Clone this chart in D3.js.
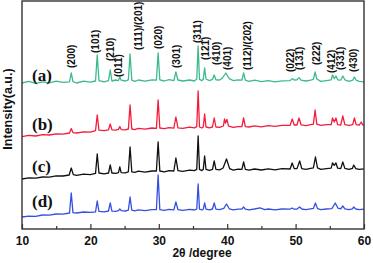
<!DOCTYPE html>
<html>
<head>
<meta charset="utf-8">
<script src="https://cdn.jsdelivr.net/npm/d3@7"></script>
<style>
  body { margin: 0; background: #fff; }
  svg { display: block; }
</style>
</head>
<body>
<div id="chart"></div>
<script>
// XRD patterns, [2θ, intensity (a.u., offset)]
const sampleA = [
  [10,730],[11,738],[12,728],[13,736],[14,731],[15,739],[16,733],
  [16.95,736],[17.2,780],[17.45,737],[18,730],[19,739],[20,734],
  [20.75,740],[21.0,870],[21.25,742],[22,736],
  [22.65,742],[22.9,795],[23.15,740],[23.7,745],
  [24.1,742],[24.3,760],[24.5,744],[25.1,740],
  [25.55,746],[25.8,875],[26.05,744],[26.5,738],[27,745],[28,739],[29,746],
  [29.65,744],[29.9,880],[30.15,746],[30.8,740],[31.5,747],
  [32.2,742],[32.5,785],[32.8,745],[33.5,740],[34.5,745],[35.2,740],
  [35.55,750],[35.75,915],[35.95,748],[36.3,742],
  [36.5,748],[36.7,805],[36.9,750],[37.4,742],
  [37.85,748],[38.1,770],[38.35,746],[38.9,745],
  [39.3,755],[39.8,780],[40.3,752],[40.9,742],[41.6,746],
  [42.15,744],[42.4,780],[42.65,744],
  [43.2,738],[44,744],[45,737],[46,742],[47,736],[48,741],
  [49.2,742],[49.5,752],[49.8,745],[50.2,746],[50.5,757],[50.8,744],
  [51.5,740],[52.2,744],[52.6,748],[52.85,785],[53.1,750],[53.7,738],[54.5,742],
  [55.2,746],[55.4,770],[55.65,752],[55.9,765],[56.15,746],
  [56.6,744],[56.9,765],[57.2,746],[57.8,738],
  [58.35,744],[58.6,760],[58.85,744],[59.3,738],[60,736]
];
const sampleB = [
  [10,462],[11,468],[12,465],[13,472],[14,470],[15,476],[16,474],
  [16.95,480],[17.2,502],[17.45,482],[18,480],[19,486],[20,484],
  [20.75,492],[21.0,570],[21.25,494],[22,492],
  [22.65,496],[22.9,525],[23.15,496],[23.7,494],
  [24.1,498],[24.3,512],[24.5,497],[25.1,496],
  [25.55,500],[25.8,620],[26.05,500],[26.5,497],[27,503],[28,499],[29,505],
  [29.65,503],[29.9,645],[30.15,505],[30.8,502],[31.5,507],
  [32.2,504],[32.5,560],[32.8,506],[33.5,503],[34.5,509],[35.2,506],
  [35.55,512],[35.75,690],[35.95,510],[36.3,505],
  [36.5,510],[36.7,575],[36.9,510],[37.4,506],
  [37.85,510],[38.1,555],[38.35,510],[38.9,508],
  [39.45,515],[39.6,550],[39.75,530],[39.95,548],[40.2,514],[40.9,508],[41.6,512],
  [42.15,512],[42.4,555],[42.65,512],
  [43.2,510],[44,516],[45,511],[46,517],[47,513],[48,518],
  [49.2,518],[49.5,550],[49.8,520],[50.2,520],[50.5,555],[50.8,521],
  [51.5,517],[52.2,522],[52.6,524],[52.85,595],[53.1,524],[53.7,518],[54.5,522],
  [55.2,522],[55.4,555],[55.65,535],[55.9,555],[56.15,522],
  [56.6,520],[56.9,565],[57.2,522],[57.8,518],
  [58.35,522],[58.6,555],[58.85,522],[59.3,519],[59.6,535],[59.8,521],[60,520]
];
const sampleC = [
  [10,250],[11,256],[12,254],[13,260],[14,259],[15,266],[16,265],
  [16.9,270],[17.2,305],[17.5,272],[18,268],[19,274],[20,272],
  [20.75,278],[21.0,375],[21.25,280],[22,276],
  [22.65,280],[22.9,320],[23.15,280],[23.7,278],
  [24.1,282],[24.3,310],[24.5,282],[25.1,281],
  [25.55,286],[25.8,410],[26.05,286],[26.5,283],[27,289],[28,284],[29,290],
  [29.65,290],[29.9,435],[30.15,290],[30.8,286],[31.5,292],
  [32.2,290],[32.5,355],[32.8,292],[33.5,288],[34.5,294],[35.2,292],
  [35.55,298],[35.75,465],[35.95,298],[36.3,292],
  [36.5,298],[36.7,365],[36.9,298],[37.4,293],
  [37.85,298],[38.1,340],[38.35,298],[38.9,296],
  [39.4,305],[39.9,350],[40.35,302],[40.9,294],[41.6,299],
  [42.15,298],[42.4,335],[42.65,298],
  [43.2,294],[44,300],[45,295],[46,301],[47,296],[48,302],
  [49.2,300],[49.5,330],[49.8,302],[50.2,302],[50.6,340],[50.9,302],
  [51.5,298],[52.2,303],[52.6,306],[52.9,360],[53.2,306],[53.7,298],[54.5,302],
  [55.2,304],[55.4,330],[55.65,318],[55.9,330],[56.15,304],
  [56.6,302],[56.9,335],[57.2,303],[57.8,298],
  [58.3,303],[58.5,320],[58.8,302],[59.3,298],[60,301]
];
const sampleD = [
  [10,60],[11,64],[12,63],[13,70],[14,69],[15,75],[16,74],
  [16.95,80],[17.2,180],[17.45,82],[18,80],[19,85],[20,83],
  [20.75,86],[21.0,140],[21.25,88],[22,86],
  [22.65,90],[22.9,130],[23.15,89],[23.7,88],
  [24.1,92],[24.3,100],[24.5,92],[25.1,90],
  [25.55,94],[25.8,160],[26.05,94],[26.5,91],[27,96],[28,92],[29,97],
  [29.65,97],[29.9,270],[30.15,97],[30.8,93],[31.5,98],
  [32.2,96],[32.5,135],[32.8,97],[33.5,93],[34.5,98],[35.2,95],
  [35.55,99],[35.75,225],[35.95,99],[36.3,95],
  [36.5,99],[36.7,130],[36.9,99],[37.4,96],
  [37.85,100],[38.1,130],[38.35,99],[38.9,97],
  [39.5,103],[39.9,125],[40.3,101],[40.9,96],[41.6,99],
  [42.15,99],[42.4,110],[42.65,99],
  [43.2,96],[44,100],[44.8,106],[45.5,97],[46,100],[47,96],[48,100],
  [49.2,99],[49.5,105],[49.8,99],[50.2,100],[50.6,110],[50.9,100],
  [51.5,97],[52.2,101],[52.6,103],[52.9,130],[53.2,102],[53.7,97],[54.5,100],
  [55.3,102],[55.8,130],[56.2,104],
  [56.6,101],[56.9,115],[57.2,101],[57.8,97],
  [58.3,101],[58.5,110],[58.8,100],[59.3,97],[60,99]
];

const seriesNames = ['(a)', '(b)', '(c)', '(d)'];
const seriesColors = ['#3dba8c', '#f41c3c', '#111111', '#3550de'];
const nameLevels = [740, 495, 283, 110]; // intensity where each (x) tag sits

// Miller indices marked over pattern (a): label, 2θ, intensity at label foot
const hklLabels = ['(200)', '(101)', '(210)', '(011)', '(111)/(201)', '(020)', '(301)', '(311)', '(121)',
  '(410)', '(401)', '(112)/(202)', '(022)', '(131)', '(222)', '(412)', '(331)', '(430)'];
const hklAngles = [17.25, 20.7, 22.9, 24.15, 27.1, 30.0, 32.6, 35.6, 36.9, 38.5, 40.0, 42.9, 49.25, 50.5, 53.0, 55.3, 56.55, 58.5];
const hklFoot = [805, 880, 840, 760, 895, 900, 805, 930, 845, 820, 795, 795, 785, 795, 820, 780, 795, 785];

const xTicks = [10, 20, 30, 40, 50, 60];
const xMinor = [15, 25, 35, 45, 55];

const W = 373, H = 263;
const x = d3.scaleLinear().domain([10, 60]).range([22, 364]);
const y = d3.scaleLinear().domain([0, 1140]).range([229, 1]);

const svg = d3.select('#chart').append('svg').attr('width', W).attr('height', H);

const line = d3.line().x(d => x(d[0])).y(d => y(d[1]));
[sampleA, sampleB, sampleC, sampleD].forEach((s, i) => {
  svg.append('path').datum(s)
    .attr('d', line).attr('fill', 'none')
    .attr('stroke', seriesColors[i]).attr('stroke-width', 1.3)
    .attr('stroke-linejoin', 'round');
});

svg.selectAll('.tag').data(seriesNames).enter().append('text')
  .attr('x', 32).attr('y', (d, i) => y(nameLevels[i]))
  .style('font-family', '"Liberation Serif", "Times New Roman", serif')
  .style('font-weight', 'bold').style('font-size', '17px').style('fill', '#111')
  .text(d => d);

svg.selectAll('.hkl').data(hklLabels).enter().append('text')
  .attr('transform', (d, i) => `translate(${x(hklAngles[i])},${y(hklFoot[i])}) rotate(-90)`)
  .attr('dy', '0.35em')
  .style('font-family', '"Liberation Sans", Arial, sans-serif')
  .style('font-weight', 'bold').style('font-size', '10px').style('fill', '#111')
  .text(d => d);

// frame
svg.append('rect').attr('x', 22).attr('y', 1).attr('width', 342).attr('height', 228)
  .attr('fill', 'none').attr('stroke', '#333').attr('stroke-width', 1.4);

const gx = svg.append('g').attr('transform', 'translate(0,229)')
  .call(d3.axisBottom(x).tickValues(xTicks).tickSize(-5).tickPadding(7).tickFormat(d3.format('d')));
gx.select('.domain').remove();
gx.selectAll('line').attr('stroke', '#333').attr('stroke-width', 1.2);
gx.selectAll('text').style('font-family', '"Liberation Sans", Arial, sans-serif')
  .style('font-weight', 'bold').style('font-size', '12px').style('fill', '#111');

const gm = svg.append('g').attr('transform', 'translate(0,229)')
  .call(d3.axisBottom(x).tickValues(xMinor).tickSize(-3).tickFormat(''));
gm.select('.domain').remove();
gm.selectAll('line').attr('stroke', '#333').attr('stroke-width', 1.2);

svg.append('text').attr('x', 202).attr('y', 257).attr('text-anchor', 'middle')
  .style('font-family', '"Liberation Sans", Arial, sans-serif')
  .style('font-weight', 'bold').style('font-size', '12px').style('fill', '#111')
  .text('2θ /degree');

svg.append('text').attr('transform', 'translate(8,109) rotate(-90)')
  .attr('text-anchor', 'middle').attr('dy', '0.35em')
  .style('font-family', '"Liberation Sans", Arial, sans-serif')
  .style('font-weight', 'bold').style('font-size', '12.5px').style('fill', '#111')
  .text('Intensity(a.u.)');
</script>
</body>
</html>
